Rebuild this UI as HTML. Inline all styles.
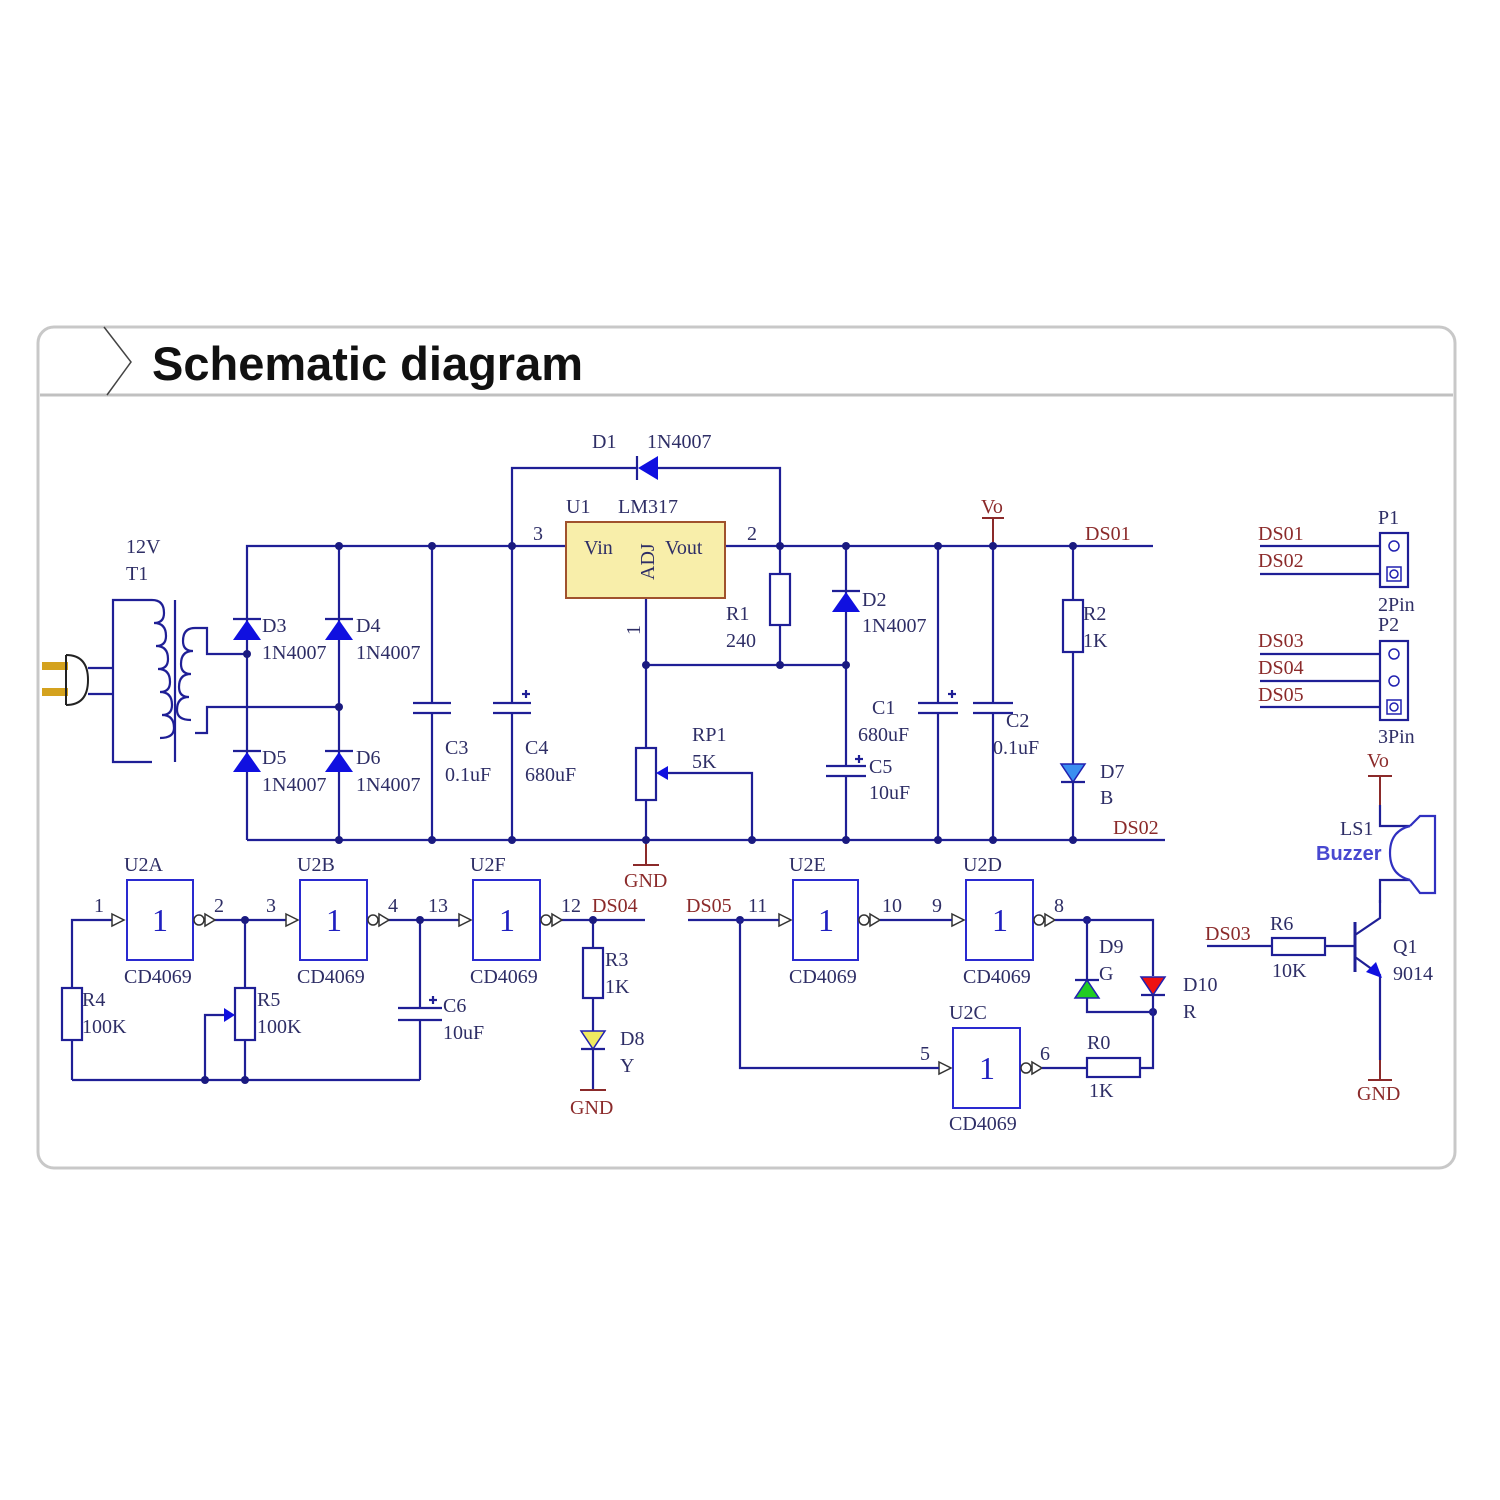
<!DOCTYPE html>
<html><head><meta charset="utf-8"><style>
html,body{margin:0;padding:0;background:#fff;}
svg{display:block}
.w{stroke:#1f1f96;stroke-width:2.2;fill:none}
.r{stroke:#8b2a2a;stroke-width:2;fill:none}
.b{stroke:#2a2ad0;stroke-width:2;fill:none}
.t{font-family:"Liberation Serif",serif;font-size:20px;fill:#2e2e66}
.rt{font-family:"Liberation Serif",serif;font-size:20px;fill:#8b2a2a}
.g{font-family:"Liberation Serif",serif;font-size:32px;fill:#2020c0;text-anchor:middle}
.dot{fill:#1a1a80}
.df{fill:#1010e0}
</style></head><body>
<svg width="1500" height="1500" viewBox="0 0 1500 1500" xmlns="http://www.w3.org/2000/svg">
<!-- frame -->
<rect x="38" y="327" width="1417" height="841" rx="16" fill="#fff" stroke="#c8c8c8" stroke-width="3"/>
<line x1="40" y1="395" x2="1453" y2="395" stroke="#c0c0c0" stroke-width="3"/>
<polyline points="104,327 131,362 107,395" fill="none" stroke="#444" stroke-width="1.5"/>
<text x="152" y="380" font-family="Liberation Sans,sans-serif" font-weight="bold" font-size="47" fill="#111">Schematic diagram</text>

<!-- power rails -->
<g class="w">
<polyline points="247,840 247,546 566,546"/>
<line x1="725" y1="546" x2="1153" y2="546"/>
<line x1="247" y1="840" x2="1165" y2="840"/>
<polyline points="512,546 512,468 638,468"/>
<polyline points="658,468 780,468 780,574"/>
<line x1="780" y1="625" x2="780" y2="665"/>
<line x1="339" y1="546" x2="339" y2="840"/>
<line x1="432" y1="546" x2="432" y2="703"/><line x1="432" y1="713" x2="432" y2="840"/>
<line x1="512" y1="546" x2="512" y2="703"/><line x1="512" y1="713" x2="512" y2="840"/>
<line x1="413" y1="703" x2="451" y2="703"/><line x1="413" y1="713" x2="451" y2="713"/>
<line x1="493" y1="703" x2="531" y2="703"/><line x1="493" y1="713" x2="531" y2="713"/>
<line x1="522" y1="694" x2="530" y2="694"/><line x1="526" y1="690" x2="526" y2="698"/>
<!-- transformer -->
<polyline points="152,600 113,600 113,762 152,762"/>
<path d="M152,600 q12,0 12,13 q0,10 -10,10 q12,0 12,13 q0,10 -10,10 q12,0 12,13 q0,10 -10,10 q12,0 12,13 q0,10 -10,10 q12,0 12,13 q0,10 -10,10 q12,0 12,13 q0,10 -14,10"/>
<line x1="175" y1="600" x2="175" y2="762"/>
<path d="M195,628 q-12,0 -12,13 q0,10 10,10 q-12,0 -12,13 q0,10 10,10 q-12,0 -12,13 q0,10 10,10 q-12,0 -12,13 q0,10 14,10"/>
<polyline points="195,628 207,628 207,654 247,654"/>
<polyline points="195,733 207,733 207,707 339,707"/>
<line x1="113" y1="668" x2="88" y2="668"/><line x1="113" y1="694" x2="88" y2="694"/>
<!-- U1 adj -->
<line x1="646" y1="598" x2="646" y2="748"/><line x1="646" y1="800" x2="646" y2="840"/>
<line x1="646" y1="665" x2="846" y2="665"/>
<polyline points="666,773 752,773 752,840"/>
<line x1="846" y1="546" x2="846" y2="766"/><line x1="846" y1="776" x2="846" y2="840"/>
<line x1="826" y1="766" x2="866" y2="766"/><line x1="826" y1="776" x2="866" y2="776"/>
<line x1="855" y1="759" x2="863" y2="759"/><line x1="859" y1="755" x2="859" y2="763"/>
<line x1="938" y1="546" x2="938" y2="703"/><line x1="938" y1="713" x2="938" y2="840"/>
<line x1="918" y1="703" x2="958" y2="703"/><line x1="918" y1="713" x2="958" y2="713"/>
<line x1="948" y1="694" x2="956" y2="694"/><line x1="952" y1="690" x2="952" y2="698"/>
<line x1="993" y1="546" x2="993" y2="703"/><line x1="993" y1="713" x2="993" y2="840"/>
<line x1="973" y1="703" x2="1013" y2="703"/><line x1="973" y1="713" x2="1013" y2="713"/>
<line x1="1073" y1="546" x2="1073" y2="600"/><line x1="1073" y1="652" x2="1073" y2="840"/>
</g>
<rect x="770" y="574" width="20" height="51" class="w" fill="#fff"/>
<rect x="636" y="748" width="20" height="52" class="w"/>
<polygon points="656,773 668,766 668,780" class="df"/>
<rect x="1063" y="600" width="20" height="52" class="w"/>
<!-- plug -->
<rect x="42" y="662" width="26" height="8" fill="#d4a21e"/><rect x="42" y="688" width="26" height="8" fill="#d4a21e"/>
<path d="M66,655 L66,705 M66,655 q22,0 22,25 q0,25 -22,25" fill="none" stroke="#222" stroke-width="2"/>
<!-- diodes -->
<g class="df">
<polygon points="233,640 261,640 247,620"/><polygon points="325,640 353,640 339,620"/>
<polygon points="233,772 261,772 247,752"/><polygon points="325,772 353,772 339,752"/>
<polygon points="832,612 860,612 846,592"/>
<polygon points="638,468 658,456 658,480"/>
</g>
<g class="w" stroke-width="3">
<line x1="233" y1="619" x2="261" y2="619"/><line x1="325" y1="619" x2="353" y2="619"/>
<line x1="233" y1="751" x2="261" y2="751"/><line x1="325" y1="751" x2="353" y2="751"/>
<line x1="832" y1="591" x2="860" y2="591"/><line x1="637" y1="456" x2="637" y2="480"/>
</g>
<!-- LED D7 -->
<polygon points="1061,764 1085,764 1073,782" fill="#3a8ef0" stroke="#2020b0" stroke-width="1.5"/>
<line x1="1061" y1="782" x2="1085" y2="782" class="w"/>
<!-- U1 -->
<rect x="566" y="522" width="159" height="76" fill="#f8eeaa" stroke="#a0522d" stroke-width="2"/>
<text x="584" y="554" class="t">Vin</text><text x="665" y="554" class="t">Vout</text>
<text x="654" y="580" class="t" transform="rotate(-90 654 580)">ADJ</text>
<!-- Vo / GND red -->
<g class="r"><line x1="993" y1="518" x2="993" y2="546"/><line x1="982" y1="518" x2="1004" y2="518"/>
<line x1="646" y1="840" x2="646" y2="865"/><line x1="633" y1="865" x2="659" y2="865"/></g>
<!-- dots -->
<g class="dot">
<circle cx="339" cy="546" r="4"/><circle cx="432" cy="546" r="4"/><circle cx="512" cy="546" r="4"/><circle cx="780" cy="546" r="4"/><circle cx="846" cy="546" r="4"/><circle cx="938" cy="546" r="4"/><circle cx="993" cy="546" r="4"/><circle cx="1073" cy="546" r="4"/>
<circle cx="247" cy="654" r="4"/><circle cx="339" cy="707" r="4"/><circle cx="646" cy="665" r="4"/><circle cx="780" cy="665" r="4"/><circle cx="846" cy="665" r="4"/>
<circle cx="339" cy="840" r="4"/><circle cx="432" cy="840" r="4"/><circle cx="512" cy="840" r="4"/><circle cx="646" cy="840" r="4"/><circle cx="752" cy="840" r="4"/><circle cx="846" cy="840" r="4"/><circle cx="938" cy="840" r="4"/><circle cx="993" cy="840" r="4"/><circle cx="1073" cy="840" r="4"/>
</g>
<!-- top labels -->
<text x="126" y="553" class="t">12V</text><text x="126" y="580" class="t">T1</text>
<text x="262" y="632" class="t">D3</text><text x="262" y="659" class="t">1N4007</text>
<text x="356" y="632" class="t">D4</text><text x="356" y="659" class="t">1N4007</text>
<text x="262" y="764" class="t">D5</text><text x="262" y="791" class="t">1N4007</text>
<text x="356" y="764" class="t">D6</text><text x="356" y="791" class="t">1N4007</text>
<text x="445" y="754" class="t">C3</text><text x="445" y="781" class="t">0.1uF</text>
<text x="525" y="754" class="t">C4</text><text x="525" y="781" class="t">680uF</text>
<text x="592" y="448" class="t">D1</text><text x="647" y="448" class="t">1N4007</text>
<text x="566" y="513" class="t">U1</text><text x="618" y="513" class="t">LM317</text>
<text x="533" y="540" class="t">3</text><text x="747" y="540" class="t">2</text>
<text x="640" y="635" class="t" transform="rotate(-90 640 635)">1</text>
<text x="726" y="620" class="t">R1</text><text x="726" y="647" class="t">240</text>
<text x="692" y="741" class="t">RP1</text><text x="692" y="768" class="t">5K</text>
<text x="862" y="606" class="t">D2</text><text x="862" y="632" class="t">1N4007</text>
<text x="872" y="714" class="t">C1</text><text x="858" y="741" class="t">680uF</text>
<text x="869" y="773" class="t">C5</text><text x="869" y="799" class="t">10uF</text>
<text x="1006" y="727" class="t">C2</text><text x="993" y="754" class="t">0.1uF</text>
<text x="1083" y="620" class="t">R2</text><text x="1083" y="647" class="t">1K</text>
<text x="1100" y="778" class="t">D7</text><text x="1100" y="804" class="t">B</text>
<text x="981" y="513" class="rt">Vo</text>
<text x="1085" y="540" class="rt">DS01</text><text x="1113" y="834" class="rt">DS02</text>
<text x="624" y="887" class="rt">GND</text>

<!-- connectors -->
<g class="w">
<line x1="1260" y1="546" x2="1380" y2="546"/><line x1="1260" y1="574" x2="1380" y2="574"/>
<rect x="1380" y="533" width="28" height="54"/>
<line x1="1260" y1="654" x2="1380" y2="654"/><line x1="1260" y1="681" x2="1380" y2="681"/><line x1="1260" y1="707" x2="1380" y2="707"/>
<rect x="1380" y="641" width="28" height="79"/>
</g>
<g fill="none" stroke="#2020b0" stroke-width="1.5">
<circle cx="1394" cy="546" r="5"/><rect x="1387" y="567" width="14" height="14"/><circle cx="1394" cy="574" r="4"/>
<circle cx="1394" cy="654" r="5"/><circle cx="1394" cy="681" r="5"/><rect x="1387" y="700" width="14" height="14"/><circle cx="1394" cy="707" r="4"/>
</g>
<text x="1378" y="524" class="t">P1</text><text x="1378" y="611" class="t">2Pin</text>
<text x="1378" y="631" class="t">P2</text><text x="1378" y="743" class="t">3Pin</text>
<text x="1258" y="540" class="rt">DS01</text><text x="1258" y="567" class="rt">DS02</text>
<text x="1258" y="647" class="rt">DS03</text><text x="1258" y="674" class="rt">DS04</text><text x="1258" y="701" class="rt">DS05</text>
<!-- buzzer -->
<g class="r"><line x1="1368" y1="776" x2="1392" y2="776"/><line x1="1380" y1="776" x2="1380" y2="805"/><line x1="1368" y1="1080" x2="1392" y2="1080"/><line x1="1380" y1="1060" x2="1380" y2="1080"/></g>
<text x="1367" y="767" class="rt">Vo</text><text x="1357" y="1100" class="rt">GND</text>
<g class="w">
<polyline points="1380,805 1380,826 1410,826"/><polyline points="1410,880 1380,880 1380,903"/>
<path d="M1410,826 q-20,5 -20,27 q0,22 20,27" stroke="#3030c0"/>
<polyline points="1410,826 1420,816 1435,816 1435,893 1420,893 1410,880" stroke="#3030c0"/>
<line x1="1207" y1="946" x2="1272" y2="946"/><line x1="1325" y1="946" x2="1355" y2="946"/>
<line x1="1355" y1="922" x2="1355" y2="972" stroke-width="3"/>
<polyline points="1355,935 1380,918 1380,900"/>
<polyline points="1355,957 1380,975 1380,1060"/>
</g>
<rect x="1272" y="938" width="53" height="17" class="w"/>
<polygon points="1382,978 1366,972 1376,962" class="df"/>
<text x="1340" y="835" class="t">LS1</text>
<text x="1316" y="860" font-family="Liberation Sans,sans-serif" font-weight="bold" font-size="20" fill="#4848d0">Buzzer</text>
<text x="1270" y="930" class="t">R6</text><text x="1272" y="977" class="t">10K</text>
<text x="1393" y="953" class="t">Q1</text><text x="1393" y="980" class="t">9014</text>
<text x="1205" y="940" class="rt">DS03</text>

<!-- bottom-left oscillator -->
<g class="w">
<polyline points="72,988 72,920 112,920"/><line x1="72" y1="1040" x2="72" y2="1080"/>
<line x1="72" y1="1080" x2="420" y2="1080"/>
<line x1="210" y1="920" x2="288" y2="920"/>
<line x1="245" y1="920" x2="245" y2="988"/><line x1="245" y1="1040" x2="245" y2="1080"/>
<polyline points="205,1080 205,1015 225,1015"/>
<line x1="384" y1="920" x2="460" y2="920"/>
<line x1="420" y1="920" x2="420" y2="1008"/><line x1="420" y1="1020" x2="420" y2="1080"/>
<line x1="398" y1="1008" x2="442" y2="1008"/><line x1="398" y1="1020" x2="442" y2="1020"/>
<line x1="429" y1="1000" x2="437" y2="1000"/><line x1="433" y1="996" x2="433" y2="1004"/>
<line x1="557" y1="920" x2="645" y2="920"/>
<line x1="593" y1="920" x2="593" y2="948"/><line x1="593" y1="998" x2="593" y2="1090"/>
</g>
<rect x="62" y="988" width="20" height="52" class="w" fill="#fff"/>
<rect x="235" y="988" width="20" height="52" class="w" fill="#fff"/>
<polygon points="235,1015 224,1008 224,1022" class="df"/>
<rect x="583" y="948" width="20" height="50" class="w" fill="#fff"/>
<polygon points="581,1031 605,1031 593,1049" fill="#f0ea60" stroke="#2020b0" stroke-width="1.5"/>
<line x1="581" y1="1049" x2="605" y2="1049" class="w"/>
<g class="r"><line x1="580" y1="1090" x2="606" y2="1090"/></g>
<!-- gates -->
<g class="b">
<rect x="127" y="880" width="66" height="80"/><rect x="300" y="880" width="67" height="80"/><rect x="473" y="880" width="67" height="80"/>
<rect x="793" y="880" width="65" height="80"/><rect x="966" y="880" width="67" height="80"/><rect x="953" y="1028" width="67" height="80"/>
</g>
<g fill="#fff" stroke="#333" stroke-width="1.5">
<circle cx="199" cy="920" r="5"/><circle cx="373" cy="920" r="5"/><circle cx="546" cy="920" r="5"/>
<circle cx="864" cy="920" r="5"/><circle cx="1039" cy="920" r="5"/><circle cx="1026" cy="1068" r="5"/>
<path d="M112,914 l12,6 l-12,6z M286,914 l12,6 l-12,6z M459,914 l12,6 l-12,6z M779,914 l12,6 l-12,6z M952,914 l12,6 l-12,6z M939,1062 l12,6 l-12,6z"/>
<path d="M205,914 l10,6 l-10,6z M379,914 l10,6 l-10,6z M552,914 l10,6 l-10,6z M870,914 l10,6 l-10,6z M1045,914 l10,6 l-10,6z M1032,1062 l10,6 l-10,6z"/>
</g>
<g class="g"><text x="160" y="931">1</text><text x="334" y="931">1</text><text x="507" y="931">1</text><text x="826" y="931">1</text><text x="1000" y="931">1</text><text x="987" y="1079">1</text></g>
<g class="dot"><circle cx="245" cy="920" r="4"/><circle cx="420" cy="920" r="4"/><circle cx="593" cy="920" r="4"/><circle cx="205" cy="1080" r="4"/><circle cx="245" cy="1080" r="4"/>
<circle cx="740" cy="920" r="4"/><circle cx="1087" cy="920" r="4"/><circle cx="1153" cy="1012" r="4"/></g>
<text x="124" y="871" class="t">U2A</text><text x="297" y="871" class="t">U2B</text><text x="470" y="871" class="t">U2F</text>
<text x="124" y="983" class="t">CD4069</text><text x="297" y="983" class="t">CD4069</text><text x="470" y="983" class="t">CD4069</text>
<text x="94" y="912" class="t">1</text><text x="214" y="912" class="t">2</text><text x="266" y="912" class="t">3</text><text x="388" y="912" class="t">4</text><text x="428" y="912" class="t">13</text><text x="561" y="912" class="t">12</text>
<text x="82" y="1006" class="t">R4</text><text x="82" y="1033" class="t">100K</text>
<text x="257" y="1006" class="t">R5</text><text x="257" y="1033" class="t">100K</text>
<text x="443" y="1012" class="t">C6</text><text x="443" y="1039" class="t">10uF</text>
<text x="605" y="966" class="t">R3</text><text x="605" y="993" class="t">1K</text>
<text x="620" y="1045" class="t">D8</text><text x="620" y="1072" class="t">Y</text>
<text x="592" y="912" class="rt">DS04</text><text x="570" y="1114" class="rt">GND</text>

<!-- bottom-right -->
<g class="w">
<line x1="688" y1="920" x2="779" y2="920"/>
<polyline points="740,920 740,1068 939,1068"/>
<line x1="880" y1="920" x2="952" y2="920"/>
<polyline points="1055,920 1153,920 1153,976"/>
<line x1="1087" y1="920" x2="1087" y2="980"/>
<polyline points="1087,998 1087,1012 1153,1012"/>
<polyline points="1153,994 1153,1068 1140,1068"/>
<line x1="1042" y1="1068" x2="1087" y2="1068"/>
</g>
<rect x="1087" y="1058" width="53" height="19" class="w" fill="#fff"/>
<polygon points="1075,998 1099,998 1087,980" fill="#22cc22" stroke="#2020b0" stroke-width="1.5"/>
<line x1="1075" y1="980" x2="1099" y2="980" class="w"/>
<polygon points="1141,977 1165,977 1153,995" fill="#ee1111" stroke="#2020b0" stroke-width="1.5"/>
<line x1="1141" y1="995" x2="1165" y2="995" class="w"/>
<text x="789" y="871" class="t">U2E</text><text x="963" y="871" class="t">U2D</text><text x="949" y="1019" class="t">U2C</text>
<text x="789" y="983" class="t">CD4069</text><text x="963" y="983" class="t">CD4069</text><text x="949" y="1130" class="t">CD4069</text>
<text x="748" y="912" class="t">11</text><text x="882" y="912" class="t">10</text><text x="932" y="912" class="t">9</text><text x="1054" y="912" class="t">8</text>
<text x="920" y="1060" class="t">5</text><text x="1040" y="1060" class="t">6</text>
<text x="1099" y="953" class="t">D9</text><text x="1099" y="980" class="t">G</text>
<text x="1183" y="991" class="t">D10</text><text x="1183" y="1018" class="t">R</text>
<text x="1087" y="1049" class="t">R0</text><text x="1089" y="1097" class="t">1K</text>
<text x="686" y="912" class="rt">DS05</text>
</svg>
</body></html>
